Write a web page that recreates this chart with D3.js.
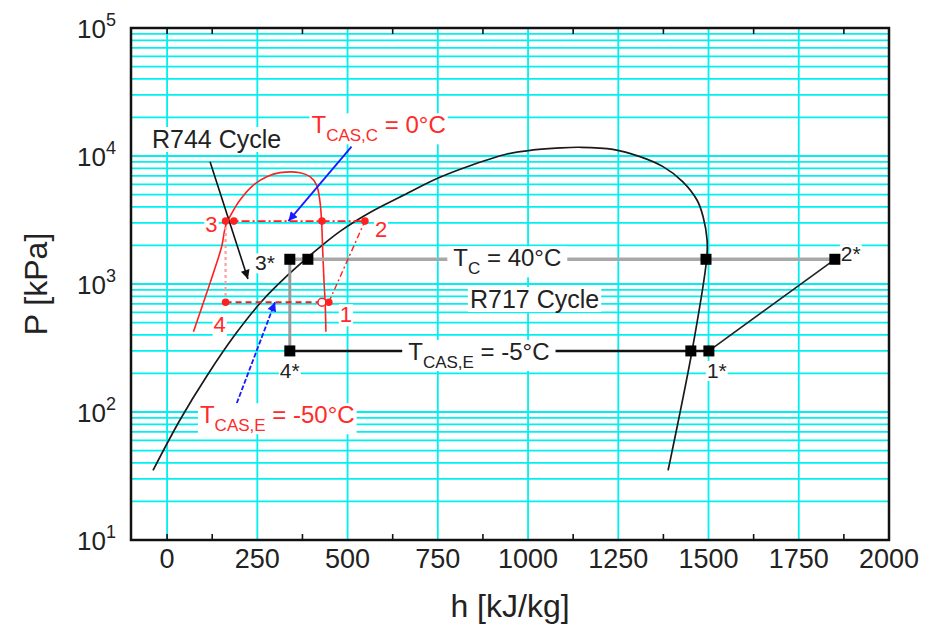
<!DOCTYPE html>
<html><head><meta charset="utf-8">
<script src="https://cdn.jsdelivr.net/npm/d3@7"></script>
<style>
html,body{margin:0;padding:0;background:#fff;}
svg{display:block;font-family:"Liberation Sans",Arial,Helvetica,sans-serif;}
</style></head><body>
<svg id="chart" width="933" height="631"></svg>
<script>
// ---- axes ----
const hRange = [-100, 2000];
const pRange = [10, 100000];
const hTicks = [0, 250, 500, 750, 1000, 1250, 1500, 1750, 2000];
const hMinorTicks = [0, 125, 375, 625, 875, 1125, 1375, 1625, 1875];
const pDecades = [10, 100, 1000, 10000, 100000];
const pDecadeExponents = ["1", "2", "3", "4", "5"];

// ---- R717 (ammonia) saturation dome, h [kJ/kg] / P [kPa] ----
const r717DomeH = [-39, 36, 111, 188, 263, 332, 404, 479, 562, 656, 751, 845, 942, 1014, 1089, 1144, 1235, 1310, 1374, 1429, 1468, 1485, 1496, 1495, 1454, 1388];
const r717DomeP = [35, 87, 193, 401, 736, 1155, 1746, 2576, 3622, 4955, 6730, 8510, 10365, 11150, 11580, 11700, 11280, 9890, 8260, 6290, 4530, 3355, 2207, 1588, 296, 35];

// ---- R744 (CO2) saturation dome ----
const r744DomeH = [73, 100, 128, 151, 163, 179, 202, 239, 276, 313, 368, 396, 414, 423, 428, 431, 435, 438, 440];
const r744DomeP = [424, 706, 1213, 1954, 2890, 3565, 4530, 5930, 6890, 7410, 7410, 6890, 5930, 4530, 3105, 1845, 1012, 706, 424];

// ---- R744 cycle (low stage) ----
const r744StateNames = ["1", "2", "3", "4"];
const r744StateH = [448, 548, 162, 162];
const r744StateP = [720, 3100, 3100, 720];
const r744HighSatH = [185, 429];   // extra points on the condensing line
const r744LowSatH = 429;           // saturated vapour on the evaporating line

// ---- R717 cycle (high stage) ----
const r717StateNames = ["1*", "2*", "3*", "4*"];
const r717StateH = [1501, 1850, 340, 340];
const r717StateP = [300, 1560, 1560, 300];
const r717CondSatH = [390, 1493];  // saturated liquid / vapour at T_C
const r717EvapSatH = [1451];       // saturated vapour at T_CAS,E

const plot = {left: 131, right: 889, top: 28, bottom: 540};

const svg = d3.select("#chart");
const x = d3.scaleLinear().domain(hRange).range([plot.left, plot.right]);
const y = d3.scaleLog().domain(pRange).range([plot.bottom, plot.top]);

// arrow heads
const defs = svg.append("defs");
function arrowHead(id, color) {
  defs.append("marker").attr("id", id)
    .attr("viewBox", "0 0 10 10").attr("refX", 10).attr("refY", 5)
    .attr("markerWidth", 13).attr("markerHeight", 9).attr("markerUnits", "userSpaceOnUse")
    .attr("orient", "auto")
    .append("path").attr("d", "M0,0 L10,5 L0,10 z").attr("fill", color);
}
arrowHead("arrBlack", "#111");
arrowHead("arrBlue", "#1a1aff");

// ---- grid ----
const grid = svg.append("g");
const pGrid = [];
pDecades.slice(0, -1).forEach(d => { for (let k = 1; k <= 9; k++) pGrid.push(k * d); });
grid.selectAll("line.hg").data(pGrid.filter(p => p > pRange[0] && p < pRange[1]))
  .join("line").attr("x1", plot.left).attr("x2", plot.right)
  .attr("y1", d => y(d)).attr("y2", d => y(d))
  .attr("stroke", "#00f0f0").attr("stroke-width", 1.8);
grid.selectAll("line.vg").data(hTicks.filter(h => h < hRange[1]))
  .join("line").attr("y1", plot.top).attr("y2", plot.bottom)
  .attr("x1", d => x(d)).attr("x2", d => x(d))
  .attr("stroke", "#00f0f0").attr("stroke-width", 1.8);

// ---- frame and ticks ----
svg.append("rect").attr("x", plot.left).attr("y", plot.top)
  .attr("width", plot.right - plot.left).attr("height", plot.bottom - plot.top)
  .attr("fill", "none").attr("stroke", "#111").attr("stroke-width", 2.5);
const tk = svg.append("g").attr("stroke", "#111").attr("stroke-width", 1.6);
tk.selectAll("line.b").data(hMinorTicks).join("line")
  .attr("x1", d => x(d)).attr("x2", d => x(d)).attr("y1", plot.bottom).attr("y2", plot.bottom - 6);
tk.selectAll("line.t").data(hMinorTicks).join("line")
  .attr("x1", d => x(d)).attr("x2", d => x(d)).attr("y1", plot.top).attr("y2", plot.top + 6);

// tick labels
svg.append("g").selectAll("text").data(hTicks).join("text")
  .attr("x", d => x(d)).attr("y", plot.bottom + 28)
  .attr("text-anchor", "middle").attr("font-size", 27).attr("fill", "#222")
  .text(d => d);
const yl = svg.append("g").selectAll("text").data(pDecades).join("text")
  .attr("x", 116).attr("y", d => y(d) + 10)
  .attr("text-anchor", "end").attr("font-size", 26).attr("fill", "#222");
yl.append("tspan").text("10");
yl.append("tspan").attr("font-size", 18).attr("dy", -12).text((d, i) => pDecadeExponents[i]);

// axis titles
svg.append("text").attr("x", (plot.left + plot.right) / 2).attr("y", 617)
  .attr("text-anchor", "middle").attr("font-size", 32).attr("fill", "#222").text("h [kJ/kg]");
svg.append("text").attr("transform", `translate(47,${(plot.top + plot.bottom) / 2}) rotate(-90)`)
  .attr("text-anchor", "middle").attr("font-size", 32).attr("fill", "#222").text("P [kPa]");

// ---- curves ----
const curveLine = d3.line().x(d => x(d[0])).y(d => y(d[1])).curve(d3.curveCatmullRom.alpha(0.5));
const straight = d3.line().x(d => x(d[0])).y(d => y(d[1]));
const marks = svg.append("g").attr("fill", "none");

marks.append("path").attr("d", curveLine(d3.zip(r717DomeH, r717DomeP)))
  .attr("stroke", "#1a1a1a").attr("stroke-width", 1.7);
marks.append("path").attr("d", curveLine(d3.zip(r744DomeH, r744DomeP)))
  .attr("stroke", "#ff2020").attr("stroke-width", 1.6);

// R717 cycle lines
const [s1, s2, s3, s4] = [0, 1, 2, 3].map(i => [r717StateH[i], r717StateP[i]]);
marks.append("path").attr("d", straight([s3, s2])).attr("stroke", "#a8a8a8").attr("stroke-width", 3.5);
marks.append("path").attr("d", straight([s3, s4])).attr("stroke", "#9a9a9a").attr("stroke-width", 3);
marks.append("path").attr("d", straight([s4, s1])).attr("stroke", "#111").attr("stroke-width", 2.4);
marks.append("path").attr("d", straight([s1, s2])).attr("stroke", "#222").attr("stroke-width", 1.6);

// R744 cycle lines
const [c1, c2, c3, c4] = [0, 1, 2, 3].map(i => [r744StateH[i], r744StateP[i]]);
marks.append("path").attr("d", straight([c3, c2])).attr("stroke", "#ff2020")
  .attr("stroke-width", 1.6).attr("stroke-dasharray", "8,3,2,3");
marks.append("path").attr("d", straight([c4, c1])).attr("stroke", "#ff1a1a")
  .attr("stroke-width", 2.2).attr("stroke-dasharray", "6,4");
marks.append("path").attr("d", straight([c1, c2])).attr("stroke", "#ff2020")
  .attr("stroke-width", 1.4).attr("stroke-dasharray", "6,3,2,3");
marks.append("path").attr("d", straight([c3, c4])).attr("stroke", "#ff9c9c")
  .attr("stroke-width", 2.2).attr("stroke-dasharray", "3,3");

// annotation arrows
marks.append("path").attr("d", straight([[119, 9020], [224, 1094]]))
  .attr("stroke", "#111").attr("stroke-width", 1.6).attr("marker-end", "url(#arrBlack)");
marks.append("path").attr("d", straight([[511, 11830], [336, 3100]]))
  .attr("stroke", "#1a1aff").attr("stroke-width", 1.8).attr("marker-end", "url(#arrBlue)");
marks.append("path").attr("d", straight([[193, 117], [299, 720]]))
  .attr("stroke", "#1a1aff").attr("stroke-width", 1.8).attr("stroke-dasharray", "5,2")
  .attr("marker-end", "url(#arrBlue)");

// ---- labels with white backing ----
const labels = svg.append("g");
function label(px, py, parts, opts = {}) {
  const g = labels.append("g");
  const t = g.append("text").attr("x", px).attr("y", py)
    .attr("text-anchor", opts.anchor || "start")
    .attr("font-size", opts.size || 24).attr("fill", opts.color || "#222");
  parts.forEach(p => {
    const s = t.append("tspan").text(p.t);
    if (p.sub) s.attr("font-size", p.sub).attr("dy", 8);
    if (p.back) s.attr("dy", -8);
  });
  const bb = t.node().getBBox();
  const pad = opts.pad === undefined ? 2 : opts.pad;
  g.insert("rect", "text").attr("x", bb.x - pad).attr("y", bb.y + 2)
    .attr("width", bb.width + 2 * pad).attr("height", bb.height - 3).attr("fill", "#fff");
}
label(x(-42), y(11550), [{t: "R744 Cycle"}], {size: 25});
label(x(400), y(15030), [{t: "T"}, {t: "CAS,C", sub: 17}, {t: " = 0°C", back: true}], {color: "#ff2a2a"});
label(x(793), y(r717StateP[1]) + 7, [{t: "T"}, {t: "C", sub: 17}, {t: " = 40°C", back: true}], {pad: 6});
label(x(839), y(649), [{t: "R717 Cycle"}], {size: 25});
label(x(668), y(r717StateP[0]) + 9, [{t: "T"}, {t: "CAS,E", sub: 17}, {t: " = -5°C", back: true}], {pad: 6});
label(x(91), y(81.7), [{t: "T"}, {t: "CAS,E", sub: 17}, {t: " = -50°C", back: true}], {color: "#ff2a2a"});

// state labels
const r744Offsets = [[11, 20, "start"], [10, 16, "start"], [-8, 11, "end"], [-12, 30, "start"]];
r744StateNames.forEach((n, i) => {
  const o = r744Offsets[i];
  label(x(r744StateH[i]) + o[0], y(r744StateP[i]) + o[1], [{t: n}],
    {size: 22, color: "#ff2a2a", anchor: o[2], pad: 1});
});
const r717Offsets = [[-2, 27, "start"], [6, 2, "start"], [-15, 11, "end"], [-10, 27, "start"]];
r717StateNames.forEach((n, i) => {
  const o = r717Offsets[i];
  label(x(r717StateH[i]) + o[0], y(r717StateP[i]) + o[1], [{t: n}],
    {size: 21, color: "#222", anchor: o[2], pad: 1});
});

// ---- state markers ----
const sq = svg.append("g").attr("fill", "#000");
const squares = [
  ...r717StateH.map((h, i) => [h, r717StateP[i]]),
  ...r717CondSatH.map(h => [h, r717StateP[1]]),
  ...r717EvapSatH.map(h => [h, r717StateP[0]])
];
sq.selectAll("rect").data(squares).join("rect")
  .attr("x", d => x(d[0]) - 5.5).attr("y", d => y(d[1]) - 5.5)
  .attr("width", 11).attr("height", 11);

const dots = svg.append("g");
const redDots = [
  ...r744StateH.map((h, i) => [h, r744StateP[i]]),
  ...r744HighSatH.map(h => [h, r744StateP[1]])
];
dots.append("circle").attr("cx", x(r744LowSatH)).attr("cy", y(r744StateP[0])).attr("r", 4)
  .attr("fill", "#fff").attr("stroke", "#ff2020").attr("stroke-width", 1.5);
dots.selectAll("circle.f").data(redDots).join("circle").attr("class", "f")
  .attr("cx", d => x(d[0])).attr("cy", d => y(d[1])).attr("r", 3.8).attr("fill", "#ff2020");
</script>
</body></html>
